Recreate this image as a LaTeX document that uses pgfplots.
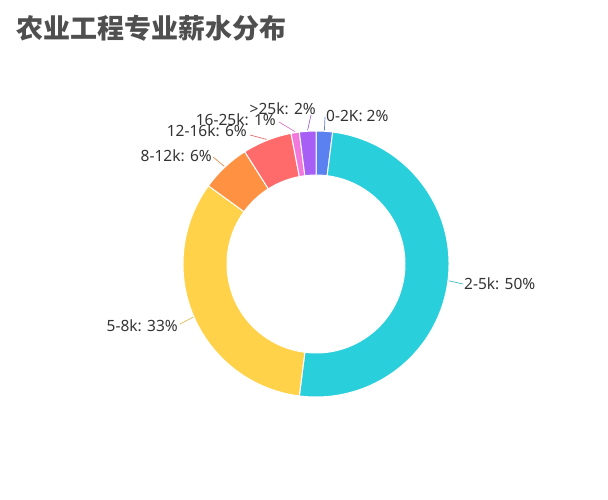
\documentclass[border=0pt]{standalone}
\usepackage{fontspec}
\setmainfont{Noto Sans}
\newfontfamily\cjk{Noto Sans CJK SC}
\usepackage{pgfplots}
\usepackage{pgfplotstable}
\pgfplotsset{compat=1.18}

\definecolor{c0}{HTML}{5B80F0}
\definecolor{c1}{HTML}{2ACFDC}
\definecolor{c2}{HTML}{FFD24A}
\definecolor{c3}{HTML}{FF9142}
\definecolor{c4}{HTML}{FF6B6B}
\definecolor{c5}{HTML}{F278DC}
\definecolor{c6}{HTML}{A65EF5}
\definecolor{labc}{HTML}{333333}
\definecolor{titlec}{HTML}{4F4F4F}

% share of each salary band (%), leader line end, label anchor (pixel coords)
\pgfplotstableread{
label  pct ex  ey  tx  ty  anc
0-2K   2   325 117 325 116 west
2-5k   50  463 284 463 284 west
5-8k   33  180 324 179 326 east
8-12k  6   213 157 213 156 east
12-16k 6   250 135 248 131 east
16-25k 1   279 122 277 120 east
>25k   2   311 115 317 109 east
}\salary
\pgfplotstablecreatecol[expr accum={\pgfmathaccuma + \thisrow{pct}}{0}]{cum}{\salary}

\def\cx{316}
\def\cy{264}
\def\Ro{133}
\def\Ri{89}

\begin{document}
\begin{tikzpicture}
\begin{axis}[
    width=608pt, height=500pt, scale only axis,
    xmin=0, xmax=608, ymin=0, ymax=500,
    y dir=reverse,
    hide axis, clip=false,
]
\pgfplotsextra{
  \path (axis cs:0,0) rectangle (axis cs:608,500);
  \foreach \i in {0,...,6}{
    \pgfplotstablegetelem{\i}{pct}\of\salary \let\p\pgfplotsretval
    \pgfplotstablegetelem{\i}{cum}\of\salary \let\ce\pgfplotsretval
    \pgfplotstablegetelem{\i}{label}\of\salary \let\lab\pgfplotsretval
    \pgfplotstablegetelem{\i}{ex}\of\salary \let\ex\pgfplotsretval
    \pgfplotstablegetelem{\i}{ey}\of\salary \let\ey\pgfplotsretval
    \pgfplotstablegetelem{\i}{tx}\of\salary \let\tx\pgfplotsretval
    \pgfplotstablegetelem{\i}{ty}\of\salary \let\ty\pgfplotsretval
    \pgfplotstablegetelem{\i}{anc}\of\salary \let\anc\pgfplotsretval
    \pgfmathsetmacro\ta{90-3.6*(\ce-\p)}
    \pgfmathsetmacro\tb{90-3.6*\ce}
    \pgfmathsetmacro\tm{(\ta+\tb)/2}
    \path[fill=c\i, draw=white, line width=1pt]
      (axis cs:{\cx+\Ro*cos(\ta)},{\cy-\Ro*sin(\ta)})
      arc[start angle=\ta, end angle=\tb, radius=\Ro pt]
      -- (axis cs:{\cx+\Ri*cos(\tb)},{\cy-\Ri*sin(\tb)})
      arc[start angle=\tb, end angle=\ta, radius=\Ri pt] -- cycle;
    \draw[c\i!75!gray, line width=0.7pt]
      (axis cs:{\cx+(\Ro+1)*cos(\tm)},{\cy-(\Ro+1)*sin(\tm)}) -- (axis cs:\ex,\ey);
    \node[anchor=\anc, inner sep=1pt, text=labc,
          font=\fontsize{15.5}{18}\selectfont] at (axis cs:\tx,\ty) {\lab: \p\%};
  }
  \node[anchor=west, inner sep=0pt, text=titlec,
        font=\cjk\bfseries\fontsize{27}{31}\selectfont]
    at (axis cs:16,28) {农业工程专业薪水分布};
}
\end{axis}
\end{tikzpicture}
\end{document}
